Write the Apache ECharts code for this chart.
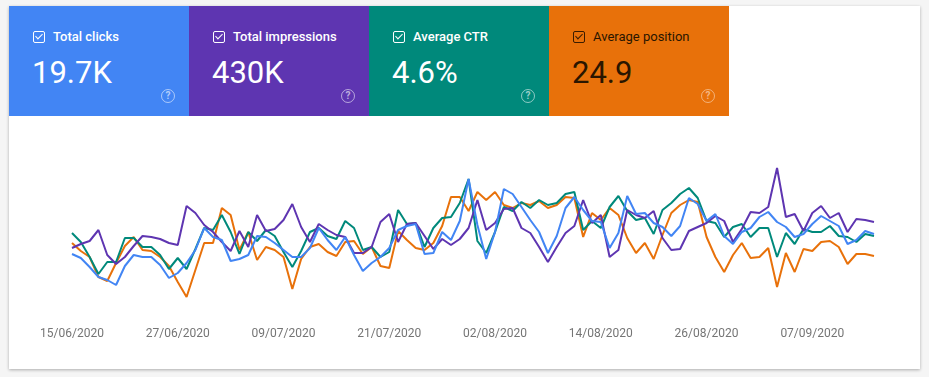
<!DOCTYPE html>
<html>
<head>
<meta charset="utf-8">
<script src="https://cdn.jsdelivr.net/npm/echarts@6/dist/echarts.min.js"></script>
<style>
html,body{margin:0;padding:0;background:#f5f5f5;font-family:Roboto,"Noto Sans",sans-serif;}
#panel{position:absolute;left:9px;top:6px;width:911px;height:363px;background:#fff;box-shadow:0 1px 3px rgba(0,0,0,0.3);}
#chart{position:absolute;left:0;top:0;width:929px;height:377px;}
.card{position:absolute;top:6px;width:180px;height:110px;color:#fff;}
.card .lbl{position:absolute;left:44px;top:23px;font-size:13px;font-weight:500;}
.card .num{position:absolute;left:23px;top:48px;font-size:31px;font-weight:400;}
.card .box{position:absolute;left:24px;top:25px;width:10px;height:10px;border:1.5px solid #fff;border-radius:2px;}
.card .box:after{content:"";position:absolute;left:3px;top:0px;width:3px;height:6px;border:solid #fff;border-width:0 1.5px 1.5px 0;transform:rotate(45deg);}
.card .help{position:absolute;left:152px;top:83px;width:12px;height:12px;border:1.5px solid rgba(255,255,255,0.55);border-radius:50%;font-size:10px;line-height:12px;text-align:center;color:rgba(255,255,255,0.6);font-weight:700;}
.dark{color:#2a1600;}
.dark .lbl{font-weight:400;}
.dark .box{border-color:#3a1c00;}
.dark .box:after{border-color:#3a1c00;}
.dark .help{border-color:rgba(255,255,255,0.45);color:rgba(255,255,255,0.5);}
</style>
</head>
<body>
<div id="panel"></div>
<div id="chart"></div>
<div id="cards"></div>
<script>
// header metrics
var metric_names = ['Total clicks', 'Total impressions', 'Average CTR', 'Average position'];
var metric_values = ['19.7K', '430K', '4.6%', '24.9'];
var metric_colors = ['#4285f4', '#5e35b1', '#00897b', '#e8710a'];

// dates: 92 days starting 15/06/2020
var start_date = '2020-06-15';
var day_count = 92;

// relative levels (hidden y axis)
var clicks = [46,42,33,23,20,15,34,45,43,43,
35,22,27,37,50,72,63,60,39,41,
45,64,63,57,50,43,43,52,72,60,
50,63,45,29,37,43,52,70,74,76,
46,47,68,60,79,121,75,41,68,111,
106,93,80,68,47,64,92,103,90,79,
78,52,67,104,86,87,77,73,64,74,
102,96,79,86,64,56,68,72,83,88,
78,73,63,66,76,84,79,74,56,60,
69,66];
var impressions = [52,56,59,70,45,36,43,54,64,63,
61,57,55,94,87,75,68,58,49,69,
53,85,69,71,80,96,73,58,76,70,
65,63,47,47,53,78,86,58,76,77,
64,51,61,55,61,72,100,70,77,91,
92,72,67,53,38,53,67,74,100,77,
85,43,50,90,85,82,89,62,50,51,
69,73,77,84,79,58,71,88,87,93,
132,83,86,69,87,94,82,87,68,81,
80,78];
var ctr = [67,58,43,26,38,38,62,62,53,53,
45,31,42,31,51,72,70,85,68,46,
68,59,70,64,48,33,49,68,72,64,
61,79,72,50,53,43,48,90,76,77,
53,72,82,83,97,121,59,47,68,93,
89,98,92,100,95,97,106,108,70,79,
72,93,104,89,80,82,66,90,97,106,
112,102,79,77,63,73,76,63,72,72,
43,67,56,71,68,68,74,64,63,58,
66,64];
var position = [57,49,43,23,19,37,54,63,50,49,
43,34,18,3,30,57,57,92,85,50,
68,40,53,50,43,11,41,53,56,48,
44,58,59,46,53,34,32,69,60,52,
50,57,74,103,103,89,108,100,108,95,
92,97,95,99,92,95,103,102,63,87,
80,92,85,62,47,57,41,65,87,95,
100,98,63,43,28,45,57,42,43,52,
13,47,28,51,49,58,59,53,36,46,
46,44];

function make_dates(){
  var out = [];
  var d0 = new Date(start_date + 'T00:00:00Z');
  for (var i=0;i<day_count;i++){
    var d = new Date(d0.getTime() + i*86400000);
    var dd = ('0' + d.getUTCDate()).slice(-2);
    var mm = ('0' + (d.getUTCMonth()+1)).slice(-2);
    out.push(dd + '/' + mm + '/' + d.getUTCFullYear());
  }
  return out;
}

function draw_cards(){
  var html = '';
  for (var i=0;i<metric_names.length;i++){
    var cls = (i==3) ? 'card dark' : 'card';
    html += '<div class="' + cls + '" style="left:' + (9+i*180) + 'px;background:' + metric_colors[i] + ';">'
      + '<div class="box"></div>'
      + '<div class="lbl">' + metric_names[i] + '</div>'
      + '<div class="num">' + metric_values[i] + '</div>'
      + '<div class="help">?</div></div>';
  }
  document.getElementById('cards').innerHTML = html;
}

function make_line(name, data, color){
  return {
    name: name,
    type: 'line',
    data: data,
    symbol: 'none',
    smooth: false,
    lineStyle: {width: 2, color: color},
    itemStyle: {color: color}
  };
}

draw_cards();

var myChart = echarts.init(document.getElementById('chart'));
var option = {
  animation: false,
  grid: {left: 72, right: 55, top: 160, bottom: 77},
  xAxis: {
    type: 'category',
    data: make_dates(),
    boundaryGap: false,
    axisLine: {show: false},
    axisTick: {show: false},
    axisLabel: {
      interval: 11,
      margin: 28,
      color: '#757575',
      fontSize: 12,
      fontFamily: 'Roboto'
    }
  },
  yAxis: {
    type: 'value',
    min: 0,
    max: 140,
    show: false
  },
  series: [
    make_line('Average position', position, '#e8710a'),
    make_line('Average CTR', ctr, '#00897b'),
    make_line('Total impressions', impressions, '#5e35b1'),
    make_line('Total clicks', clicks, '#4285f4')
  ]
};
myChart.setOption(option);
</script>
</body>
</html>
